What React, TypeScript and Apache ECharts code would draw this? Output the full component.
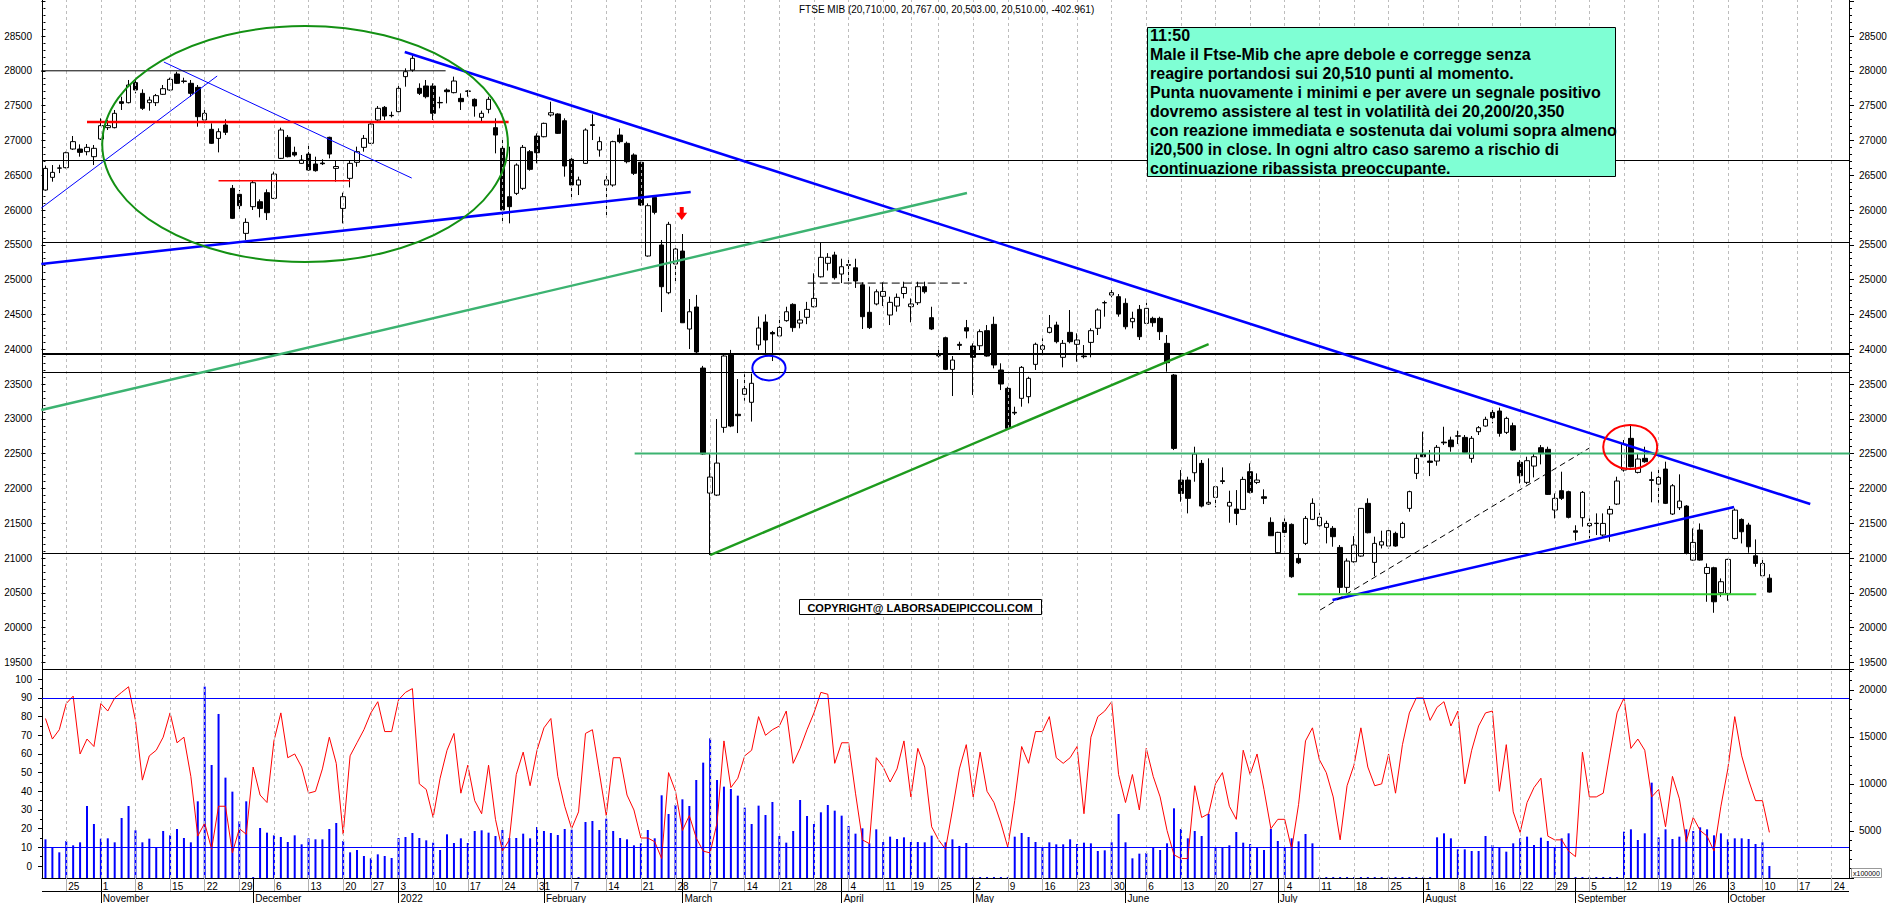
import React, { useEffect, useRef } from "react";
import * as echarts from "echarts";

// ---------------- calendar (trading days of Borsa Italiana) ----------------
const FIRST_DAY = "2021-10-20";
const LAST_DAY = "2022-10-26";
const MARKET_HOLIDAYS = ["2021-12-24", "2021-12-31", "2022-04-15", "2022-04-18", "2022-08-15"];
const MONTH_NAMES = ["January", "February", "March", "April", "May", "June", "July", "August", "September", "October", "November", "December"];

function tradingDays(): string[] {
  const out: string[] = [];
  const d = new Date(FIRST_DAY + "T00:00:00Z");
  const end = new Date(LAST_DAY + "T00:00:00Z");
  while (d <= end) {
    const wd = d.getUTCDay();
    const s = d.toISOString().slice(0, 10);
    if (wd !== 0 && wd !== 6 && !MARKET_HOLIDAYS.includes(s)) out.push(s);
    d.setUTCDate(d.getUTCDate() + 1);
  }
  return out;
}
const categories = tradingDays();

// ---------------- price data: [open, close, low, high] ----------------
const ohlc: number[][] = [
  [26287, 26598, 26277, 26637], [26469, 26541, 26407, 26646], [26600, 26605, 26530, 26650], [26608, 26823, 26598, 26838], [26876, 26982, 26862, 27063],
  [26876, 26828, 26766, 26943], [26838, 26900, 26785, 26948], [26766, 26886, 26646, 26934], [27020, 27212, 27006, 27317], [27183, 27212, 27149, 27293],
  [27183, 27389, 27173, 27437], [27556, 27532, 27437, 27628], [27542, 27796, 27532, 27868], [27830, 27724, 27676, 27868], [27676, 27461, 27437, 27734],
  [27542, 27580, 27427, 27628], [27542, 27643, 27494, 27667], [27662, 27743, 27653, 27796], [27724, 27877, 27714, 27901], [27954, 27820, 27810, 27987],
  [27853, 27848, 27820, 27901], [27820, 27676, 27628, 27868], [27762, 27341, 27197, 27796], [27293, 27389, 27245, 27451], [27159, 26958, 26948, 27245],
  [27029, 27125, 26828, 27173], [27221, 27116, 27077, 27303], [26311, 25880, 25870, 26359], [26225, 26062, 25990, 26287], [25664, 25822, 25569, 25880],
  [26048, 26392, 26000, 26431], [26119, 26023, 25894, 26153], [26249, 25961, 25856, 26297], [26167, 26517, 26157, 26551], [26742, 27149, 26732, 27183],
  [27044, 26766, 26756, 27077], [26828, 26790, 26766, 26910], [26670, 26718, 26661, 26790], [26804, 26574, 26565, 26934], [26661, 26565, 26551, 26766],
  [26675, 26665, 26646, 26728], [27044, 26804, 26742, 27053], [26598, 26625, 26407, 26718], [26023, 26191, 25808, 26249], [26455, 26670, 26325, 26718],
  [26685, 26838, 26622, 26910], [26900, 27029, 26838, 27077], [26958, 27235, 26948, 27245], [27293, 27461, 27283, 27494], [27475, 27350, 27293, 27494],
  [27360, 27355, 27331, 27413], [27413, 27748, 27403, 27796], [27916, 27987, 27772, 28035], [28011, 28179, 27987, 28227], [27748, 27676, 27652, 27820],
  [27782, 27628, 27604, 27868], [27782, 27389, 27293, 27820], [27545, 27540, 27461, 27628], [27724, 27700, 27532, 27748], [27686, 27853, 27676, 27916],
  [27604, 27556, 27437, 27676], [27710, 27705, 27628, 27724], [27590, 27494, 27341, 27604], [27331, 27389, 27269, 27427], [27446, 27590, 27389, 27628],
  [27183, 27077, 26814, 27317], [26886, 26000, 25818, 27005], [26191, 26048, 25808, 26910], [26239, 26646, 26215, 26670], [26311, 26900, 26287, 26934],
  [26838, 26584, 26565, 26862], [27063, 26823, 26670, 27101], [27053, 27245, 27044, 27255], [27365, 27398, 27341, 27556], [27379, 27101, 27092, 27389],
  [27283, 26632, 26479, 27317], [26728, 26359, 26167, 26766], [26359, 26431, 26215, 26479], [26670, 27149, 26661, 27173], [27225, 27215, 27005, 27374],
  [26862, 26982, 26766, 27053], [26359, 26431, 25928, 26527], [26359, 26982, 26335, 26996], [27077, 26982, 26958, 27173], [26958, 26694, 26670, 26982],
  [26790, 26527, 26503, 26814], [26685, 26071, 26057, 26694], [25339, 26062, 25329, 26095], [26181, 25966, 25937, 26201], [25497, 24898, 24534, 25569],
  [24811, 25794, 24790, 25830], [25224, 25439, 24970, 25497], [25410, 24380, 24376, 25655], [24290, 24538, 24002, 24720], [24606, 23960, 23945, 24780],
  [23729, 22494, 22480, 23760], [21933, 22163, 21042, 22508], [21904, 22364, 21890, 22997], [22877, 23902, 22800, 23945], [23930, 22896, 22880, 23990],
  [23065, 23045, 22795, 23571], [23352, 23432, 23260, 23640], [23237, 23510, 22960, 23650], [24060, 24304, 23990, 24470], [24390, 24132, 23920, 24500],
  [24240, 24220, 23830, 24263], [24190, 24313, 24180, 24470], [24410, 24538, 24395, 24610], [24644, 24310, 24250, 24660], [24375, 24420, 24300, 24550],
  [24458, 24572, 24360, 24680], [24610, 24730, 24600, 25090], [25040, 25320, 25030, 25530], [25234, 25320, 25130, 25380], [25353, 25027, 25000, 25400],
  [25080, 25185, 24950, 25300], [25215, 25205, 24930, 25300], [25170, 24980, 24880, 25300], [24925, 24467, 24290, 24960], [24530, 24310, 24290, 24900],
  [24650, 24825, 24630, 24860], [24760, 24830, 24620, 24960], [24491, 24673, 24347, 24755], [24620, 24745, 24540, 24800], [24800, 24889, 24730, 24970],
  [24611, 24650, 24386, 24730], [24668, 24898, 24635, 24970], [24898, 24826, 24800, 24970], [24453, 24290, 24275, 24610], [23910, 23905, 23880, 24040],
  [24165, 23710, 23700, 24180], [23710, 23844, 23327, 23902], [24070, 24055, 23988, 24108], [24309, 24261, 24156, 24420], [24046, 23883, 23342, 24084],
  [24050, 24252, 23988, 24285], [24266, 23902, 23892, 24347], [24357, 23773, 23725, 24467], [23701, 23500, 23413, 23797], [23437, 22863, 22848, 23461],
  [23093, 23083, 23054, 23174], [23294, 23739, 23174, 23758], [23318, 23581, 23222, 23605], [23782, 24070, 23701, 24094], [23998, 24050, 23931, 24156],
  [24242, 24309, 24228, 24491], [24347, 24108, 24084, 24395], [23883, 24084, 23739, 24132], [24242, 24108, 24084, 24563], [24070, 24132, 23820, 24228],
  [23902, 23893, 23868, 24060], [24098, 24266, 23883, 24300], [24300, 24563, 24204, 24587], [24665, 24670, 24467, 24697], [24778, 24812, 24745, 24850],
  [24755, 24505, 24467, 24793], [24659, 24323, 24285, 24730], [24395, 24443, 24300, 24539], [24572, 24180, 24132, 24635], [24371, 24587, 24347, 24668],
  [24443, 24381, 24323, 24467], [24443, 24252, 24132, 24467], [24084, 23806, 23677, 24204], [23629, 22575, 22551, 23643], [22120, 21928, 21809, 22264],
  [22120, 21857, 21641, 22168], [22225, 22494, 22096, 22599], [22360, 21746, 21727, 22408], [21775, 21800, 21761, 22432], [21871, 22024, 21727, 22048],
  [22110, 22100, 22062, 22302], [21746, 21799, 21507, 21967], [21703, 21641, 21473, 21976], [21698, 22129, 21689, 22168], [22240, 21943, 21928, 22360],
  [22086, 22120, 22062, 22216], [21880, 21857, 21775, 21986], [21512, 21320, 21315, 21584], [21076, 21368, 21057, 21377], [21512, 21368, 21306, 21569],
  [21483, 20731, 20716, 21497], [20994, 20932, 20913, 21057], [21210, 21569, 21186, 21603], [21555, 21785, 21545, 21857], [21464, 21584, 21450, 21651],
  [21440, 21497, 21210, 21536], [21426, 21306, 21162, 21459], [21152, 20578, 20491, 21186], [20578, 20956, 20501, 20994], [20946, 21186, 20932, 21315],
  [21028, 21713, 21018, 21713], [21785, 21363, 21354, 21857], [20937, 21210, 20740, 21306], [21186, 21234, 21138, 21392], [21172, 21392, 21138, 21426],
  [21354, 21172, 21162, 21378], [21296, 21497, 21282, 21521], [21713, 21953, 21665, 21967], [22216, 22432, 22134, 22494], [22494, 22455, 22455, 22815],
  [22393, 22374, 22177, 22551], [22393, 22590, 22326, 22623], [22665, 22655, 22623, 22886], [22695, 22599, 22527, 22743], [22755, 22750, 22637, 22829],
  [22733, 22518, 22503, 22767], [22431, 22719, 22369, 22752], [22815, 22872, 22767, 22896], [22896, 22992, 22887, 23030], [23092, 23016, 22935, 23160],
  [23112, 22791, 22743, 23160], [22805, 23006, 22781, 23030], [22901, 22551, 22541, 22944], [22374, 22182, 22072, 22407], [22087, 22398, 22062, 22455],
  [22321, 22455, 22158, 22503], [22585, 22500, 22345, 22623], [22561, 21914, 21905, 22599], [21689, 21857, 21569, 21928], [21967, 21857, 21833, 22240],
  [21953, 21584, 21569, 21967], [21390, 21370, 21250, 21470], [21579, 21943, 21450, 21962], [21464, 21497, 21282, 21569], [21500, 21495, 21330, 21641],
  [21330, 21497, 21306, 21641], [21632, 21699, 21234, 21747], [21775, 22106, 21761, 22168], [22264, 22633, 22240, 22695], [22719, 22312, 22302, 22911],
  [22230, 22422, 22215, 22500], [22432, 22383, 22369, 22599], [22125, 22115, 21800, 22240], [22062, 22158, 21794, 22288], [22278, 21785, 21775, 22384],
  [21632, 22038, 21618, 22062], [21722, 21818, 21689, 22202], [21746, 21066, 21052, 21760], [20970, 21224, 20961, 21425], [21402, 20970, 20961, 21497],
  [20778, 20864, 20371, 20922], [20860, 20371, 20213, 20874], [20500, 20659, 20443, 20707], [20491, 20980, 20385, 20989], [21281, 21688, 21267, 21712],
  [21554, 21377, 21209, 21569], [21473, 21162, 21075, 21506], [21032, 20922, 20874, 21267], [20745, 20922, 20730, 20980], [20710, 20510, 20503, 20767],
];

// ---------------- volume (x100000) ----------------
const volume: number[] = [
  4115, 3228, 2731, 3937, 3476, 3795, 7662, 5746, 4185, 4221, 3795, 6385, 7662, 5072, 3795, 4185, 3228, 5001, 4540, 5214,
  4256, 3795, 8158, 20360, 12024, 17451, 10676, 9187, 6030, 8158, 100, 5320, 4824, 4540, 4363, 3830, 4540, 3582, 4221, 4115,
  4115, 5214, 5852, 3937, 2731, 2980, 2341, 2093, 2518, 2341, 2128, 4256, 4363, 4788, 4256, 4008, 3760, 2980, 4647, 3724,
  4221, 3724, 5001, 5072, 4824, 4469, 5108, 4256, 4256, 4717, 4221, 5427, 5001, 4788, 4575, 5214, 5143, 100, 5959, 6065,
  5108, 6314, 5001, 4256, 4115, 3476, 3689, 5108, 4221, 8797, 6810, 7768, 8371, 7662, 10428, 12273, 14862, 10428, 9719, 9470,
  8761, 7484, 5746, 7697, 6704, 8087, 4469, 3760, 5001, 8300, 6597, 5746, 6988, 7768, 7165, 6633, 5533, 4717, 5285, 3689,
  5179, 3831, 4398, 4150, 4327, 3831, 3831, 3795, 4505, 100, 3795, 4115, 3405, 3724, 100, 100, 100, 100, 100, 100,
  4398, 4788, 4363, 3831, 3263, 3795, 3582, 3582, 4115, 3618, 3760, 3689, 2873, 2944, 3795, 6810, 3795, 2093, 2589, 2660,
  3228, 2980, 3689, 7413, 5214, 4221, 5001, 4469, 6810, 3263, 3263, 3476, 4895, 3760, 3618, 3263, 2980, 5214, 3937, 3263,
  4221, 3902, 4682, 3689, 100, 100, 100, 100, 100, 100, 100, 100, 100, 100, 100, 100, 100, 100, 100, 100,
  100, 4327, 4753, 4221, 3050, 3050, 2873, 2873, 4469, 3512, 3228, 2802, 3689, 4221, 4398, 3512, 4292, 3937, 3263, 4221,
  4753, 100, 100, 100, 100, 100, 100, 100, 4930, 5179, 4044, 4753, 10144, 4327, 5179, 4150, 4398, 5179, 5000, 5391,
  5179, 4540, 4753, 4115, 4221, 4221, 4150, 3618, 3795, 1277,
];

// ---------------- oscillator (0-100) ----------------
const oscillator: number[] = [
  79, 68, 73, 87, 91, 60, 68, 64, 87, 83, 90, 93, 96, 78, 46, 59, 62, 69, 82, 66,
  69, 48, 16, 23, 9, 32, 32, 7, 20, 17, 53, 38, 34, 67, 82, 58, 60, 53, 39, 40,
  52, 69, 55, 17, 59, 66, 73, 82, 88, 72, 72, 89, 93, 95, 44, 41, 26, 47, 62, 71,
  39, 54, 35, 28, 54, 25, 8, 14, 49, 61, 43, 62, 74, 79, 48, 32, 20, 29, 71, 73,
  50, 27, 58, 58, 38, 30, 15, 15, 13, 4, 50, 40, 19, 27, 15, 8, 7, 23, 67, 42,
  47, 59, 62, 80, 70, 73, 75, 83, 55, 63, 73, 82, 93, 92, 55, 66, 66, 39, 14, 12,
  58, 53, 45, 52, 67, 37, 63, 53, 21, 14, 9, 30, 52, 65, 37, 61, 40, 34, 23, 10,
  35, 64, 55, 72, 72, 80, 58, 55, 58, 64, 28, 69, 80, 83, 88, 49, 34, 49, 30, 63,
  48, 37, 19, 6, 4, 4, 43, 26, 28, 44, 50, 32, 25, 62, 49, 60, 41, 20, 25, 25,
  9, 33, 67, 74, 57, 50, 37, 14, 43, 54, 74, 53, 43, 44, 60, 39, 65, 82, 90, 90,
  78, 85, 88, 75, 83, 44, 62, 75, 82, 83, 40, 65, 29, 18, 34, 42, 47, 16, 14, 14,
  8, 5, 61, 37, 37, 39, 61, 82, 90, 63, 68, 62, 37, 41, 21, 48, 36, 13, 26, 19,
  16, 8, 32, 52, 80, 59, 46, 35, 35, 18,
];
const oscBands = [90, 10];

// ---------------- drawn annotations (trading-day index, price) ----------------
const priceLevels = [26710, 25530, 23930, 23667, 21066];
const segments: number[][] = [
  [51.9, 28270, 254.9, 21775],
  [-0.6, 25224, 93.2, 26258],
  [-0.6, 26028, 24.8, 27925],
  [17.1, 28126, 52.9, 26459],
  [-0.6, 23126, 133.1, 26244],
  [96, 21042, 168, 24074],
  [185.9, 20395, 243.9, 21732],
  [184.1, 20252, 223, 22580],
  [-0.6, 28000, 57.8, 28000],
  [6, 27264, 66.9, 27264],
  [25, 26420, 44, 26420],
  [110.1, 24950, 133.1, 24950],
  [85.1, 22500, 260.6, 22500],
  [180.9, 20480, 247.1, 20480],
];
const ellipses: number[][] = [
  [37.5, 26948, 29.3, 1696],
  [104.5, 23729, 2.4, 177],
  [228.9, 22594, 3.9, 316],
];
const arrowMarks: number[][] = [[91.9, 26043, 25856]];

const titleText = "FTSE MIB (20,710.00, 20,767.00, 20,503.00, 20,510.00, -402.961)";
const commentLines = [
  "11:50",
  "Male il Ftse-Mib che apre debole e corregge senza",
  "reagire portandosi sui 20,510 punti al momento.",
  "Punta nuovamente i minimi e per avere un segnale positivo",
  "dovremo assistere al test in volatilità dei 20,200/20,350",
  "con reazione immediata e sostenuta dai volumi sopra almeno",
  "i20,500 in close. In ogni altro caso saremo a rischio di",
  "continuazione ribassista preoccupante.",
];
const copyrightText = "COPYRIGHT@ LABORSADEIPICCOLI.COM";

// ---------------- styles ----------------
const FONT = 'Arial, "Liberation Sans", sans-serif';
const levelWidths = [1, 1, 2.2, 1, 1];
const segmentStyles: any[] = [
  { color: "#0000ff", width: 2.6 },
  { color: "#0000ff", width: 2.6 },
  { color: "#0000ff", width: 1 },
  { color: "#0000ff", width: 1 },
  { color: "#3cb371", width: 2.4 },
  { color: "#1e9b1e", width: 2.4 },
  { color: "#0000ff", width: 2.6 },
  { color: "#000000", width: 1, type: [6, 4] },
  { color: "#000000", width: 1 },
  { color: "#ff0000", width: 2.4 },
  { color: "#ff0000", width: 1.4 },
  { color: "#000000", width: 1, type: [8, 4] },
  { color: "#3cb371", width: 2 },
  { color: "#33cc33", width: 2 },
];
const ellipseStyles = [
  { color: "#139013", width: 2 },
  { color: "#0000ff", width: 2 },
  { color: "#ff0000", width: 2 },
];

const weekKey = (s: string) => {
  const d = new Date(s + "T00:00:00Z");
  d.setUTCDate(d.getUTCDate() - ((d.getUTCDay() + 6) % 7));
  return d.toISOString().slice(0, 10);
};
const weekStartIdx = categories.map((_, i) => i).filter((i) => i > 0 && weekKey(categories[i]) !== weekKey(categories[i - 1]));
const weekSet = new Set(weekStartIdx);
const monthSet = new Set(categories.map((_, i) => i).filter((i) => i > 0 && categories[i].slice(0, 7) !== categories[i - 1].slice(0, 7)));
const weekInterval = (idx: number) => weekSet.has(idx);
const monthInterval = (idx: number) => monthSet.has(idx);
const monthLabel = (v: string) => {
  const m = Number(v.slice(5, 7));
  return m === 1 ? v.slice(0, 4) : MONTH_NAMES[m - 1];
};

function buildOption(): any {
  const L = 42, R = 41;
  const gridBase = { left: L, right: R, containLabel: false, outerBoundsMode: "none" };
  const hiddenCat = (gridIndex: number) => ({ type: "category", gridIndex, data: categories, boundaryGap: true, show: false });
  const numLabel = { color: "#000", fontSize: 10, fontFamily: FONT, formatter: (v: number) => String(v) };
  const tick = { show: true, length: 4, lineStyle: { color: "#000" } };

  return {
    animation: false,
    backgroundColor: "#ffffff",
    textStyle: { fontFamily: FONT },
    grid: [
      { ...gridBase, top: 1.2, height: 661.2 },
      { ...gridBase, top: 679.3, height: 186.7 },
      { ...gridBase, top: 669, height: 209 },
      { ...gridBase, top: 0, height: 878 },
    ],
    xAxis: [
      hiddenCat(0),
      hiddenCat(1),
      {
        type: "category", gridIndex: 2, data: categories, boundaryGap: true, position: "bottom",
        axisLine: { show: true, lineStyle: { color: "#000", width: 1 } },
        axisTick: { show: true, alignWithLabel: true, interval: weekInterval, length: 13, lineStyle: { color: "#b0b0b0" } },
        axisLabel: {
          show: true, interval: weekInterval, formatter: (v: string) => String(Number(v.slice(8, 10))),
          align: "left", margin: 3, padding: [0, 0, 0, 2], fontSize: 10, color: "#000", fontFamily: FONT,
        },
        splitLine: { show: false },
      },
      {
        type: "category", gridIndex: 2, data: categories, boundaryGap: true, position: "bottom",
        axisLine: { show: false },
        axisTick: { show: true, alignWithLabel: true, interval: monthInterval, length: 25, lineStyle: { color: "#000" } },
        axisLabel: {
          show: true, interval: monthInterval, formatter: monthLabel,
          align: "left", margin: 15, padding: [0, 0, 0, 2], fontSize: 10, color: "#000", fontFamily: FONT,
        },
        splitLine: { show: false },
      },
      hiddenCat(3),
      { type: "value", gridIndex: 0, min: -0.5, max: categories.length - 0.5, show: false },
    ],
    yAxis: [
      {
        type: "value", gridIndex: 0, position: "left", min: 19500, max: 29000, interval: 500,
        axisLine: { show: false }, axisTick: tick,
        minorTick: { show: true, splitNumber: 5, length: 2, lineStyle: { color: "#000" } },
        axisLabel: { ...numLabel, margin: 10, showMaxLabel: false }, splitLine: { show: false }, minorSplitLine: { show: false },
      },
      {
        type: "value", gridIndex: 0, position: "right", min: 19500, max: 29000, interval: 500,
        axisLine: { show: false }, axisTick: { ...tick, length: 5 },
        minorTick: { show: true, splitNumber: 5, length: 3, lineStyle: { color: "#000" } },
        axisLabel: { ...numLabel, margin: 10, showMaxLabel: false }, splitLine: { show: false }, minorSplitLine: { show: false },
      },
      {
        type: "value", gridIndex: 1, position: "left", min: 0, max: 100, interval: 10,
        axisLine: { show: false }, axisTick: tick,
        minorTick: { show: true, splitNumber: 2, length: 2, lineStyle: { color: "#000" } },
        axisLabel: { ...numLabel, margin: 10 }, splitLine: { show: false }, minorSplitLine: { show: false },
      },
      {
        type: "value", gridIndex: 2, position: "right", min: 0, max: 22234, interval: 5000,
        axisLine: { show: false }, axisTick: { ...tick, length: 5 },
        minorTick: { show: true, splitNumber: 5, length: 3, lineStyle: { color: "#000" } },
        axisLabel: { ...numLabel, margin: 10, showMinLabel: false, showMaxLabel: false },
        splitLine: { show: false }, minorSplitLine: { show: false },
      },
      {
        type: "value", gridIndex: 3, position: "left", min: 0, max: 1,
        axisLine: { show: true, lineStyle: { color: "#000", width: 1 } },
        axisTick: { show: false }, axisLabel: { show: false }, splitLine: { show: false },
      },
      {
        type: "value", gridIndex: 3, position: "right", min: 0, max: 1,
        axisLine: { show: true, lineStyle: { color: "#000", width: 1 } },
        axisTick: { show: false }, axisLabel: { show: false }, splitLine: { show: false },
      },
    ],
    series: [
      {
        type: "line", xAxisIndex: 4, yAxisIndex: 4, data: [], silent: true, z: 0,
        markLine: {
          silent: true, symbol: ["none", "none"], label: { show: false }, animation: false,
          lineStyle: { color: "#bdbdbd", type: [3, 3], width: 1 },
          emphasis: { disabled: true },
          data: weekStartIdx.map((i) => ({ xAxis: categories[i] })),
        },
      },
      {
        type: "bar", xAxisIndex: 2, yAxisIndex: 3, data: volume, barWidth: 2, silent: true, z: 2,
        itemStyle: { color: "#0000ff" },
      },
      {
        type: "line", xAxisIndex: 1, yAxisIndex: 2, data: oscillator, symbol: "none", showSymbol: false, silent: true, z: 4,
        lineStyle: { color: "#ff0000", width: 1 },
        markLine: {
          silent: true, symbol: ["none", "none"], label: { show: false }, animation: false,
          lineStyle: { color: "#0000ff", width: 1, type: "solid" },
          emphasis: { disabled: true },
          data: oscBands.map((v) => ({ yAxis: v })),
        },
      },
      {
        type: "candlestick", xAxisIndex: 0, yAxisIndex: 0, data: ohlc, barWidth: 5, silent: true, z: 3,
        itemStyle: { color: "#ffffff", color0: "#000000", borderColor: "#000000", borderColor0: "#000000", borderColorDoji: "#000000", borderWidth: 1 },
        markLine: {
          silent: true, symbol: ["none", "none"], label: { show: false }, animation: false,
          emphasis: { disabled: true },
          data: priceLevels.map((p, k) => ({ yAxis: p, lineStyle: { color: "#000", width: levelWidths[k], type: "solid" } })),
        },
      },
      ...segments.map((s, k) => ({
        type: "line", xAxisIndex: 5, yAxisIndex: 0, data: [[s[0], s[1]], [s[2], s[3]]],
        symbol: "none", showSymbol: false, silent: true, z: 5,
        lineStyle: { color: segmentStyles[k].color, width: segmentStyles[k].width, type: segmentStyles[k].type || "solid" },
      })),
      {
        type: "custom", xAxisIndex: 5, yAxisIndex: 0, data: ellipses, silent: true, z: 6, clip: false,
        renderItem: (params: any, api: any) => {
          const c = api.coord([api.value(0), api.value(1)]);
          const s = api.size([api.value(2), api.value(3)]);
          const st = ellipseStyles[params.dataIndex];
          return {
            type: "ellipse",
            shape: { cx: c[0], cy: c[1], rx: Math.abs(s[0]), ry: Math.abs(s[1]) },
            style: { fill: "none", stroke: st.color, lineWidth: st.width },
          };
        },
      },
      {
        type: "custom", xAxisIndex: 5, yAxisIndex: 0, data: arrowMarks, silent: true, z: 6, clip: false,
        renderItem: (params: any, api: any) => {
          const top = api.coord([api.value(0), api.value(1)]);
          const bot = api.coord([api.value(0), api.value(2)]);
          const h = bot[1] - top[1];
          const head = h * 0.55;
          return {
            type: "group",
            children: [
              { type: "rect", shape: { x: top[0] - 2, y: top[1], width: 4, height: h - head + 1 }, style: { fill: "#ff0000" } },
              {
                type: "polygon",
                shape: { points: [[top[0] - 5.5, bot[1] - head], [top[0] + 5.5, bot[1] - head], [top[0], bot[1]]] },
                style: { fill: "#ff0000" },
              },
            ],
          };
        },
      },
    ],
    graphic: [
      { type: "line", z: 50, shape: { x1: 42, y1: 669.5, x2: 1849, y2: 669.5 }, style: { stroke: "#000", lineWidth: 1 } },
      { type: "line", z: 50, shape: { x1: 42, y1: 891.5, x2: 1849, y2: 891.5 }, style: { stroke: "#000", lineWidth: 1 } },
      { type: "text", z: 50, x: 799, y: 4, style: { text: titleText, fontSize: 10, fontFamily: FONT, fill: "#000" } },
      { type: "rect", z: 100, shape: { x: 1147.5, y: 27.5, width: 468, height: 149 }, style: { fill: "#7fffd4", stroke: "#000", lineWidth: 1 } },
      {
        type: "text", z: 101, x: 1150, y: 26,
        style: { text: commentLines.join("\n"), fontSize: 16, fontWeight: "bold", fontFamily: FONT, lineHeight: 19, fill: "#000" },
      },
      { type: "rect", z: 100, shape: { x: 799.5, y: 599.5, width: 242, height: 15 }, style: { fill: "#fff", stroke: "#000", lineWidth: 1 } },
      {
        type: "text", z: 101, x: 920, y: 607.5,
        style: { text: copyrightText, fontSize: 11, fontWeight: "bold", fontFamily: FONT, fill: "#000", align: "center", verticalAlign: "middle" },
      },
      { type: "rect", z: 100, shape: { x: 1851.5, y: 868.5, width: 30, height: 9 }, style: { fill: "#fff", stroke: "#999", lineWidth: 1 } },
      { type: "text", z: 101, x: 1853, y: 873, style: { text: "x100000", fontSize: 7, fontFamily: FONT, fill: "#000", verticalAlign: "middle" } },
    ],
  };
}

export default function App() {
  const ref = useRef<HTMLDivElement>(null);
  useEffect(() => {
    document.body.style.margin = "0";
    const chart = echarts.init(ref.current as HTMLDivElement, undefined, { renderer: "svg", width: 1890, height: 903 });
    chart.setOption(buildOption());
    return () => chart.dispose();
  }, []);
  return <div ref={ref} style={{ width: 1890, height: 903, background: "#fff" }} />;
}
